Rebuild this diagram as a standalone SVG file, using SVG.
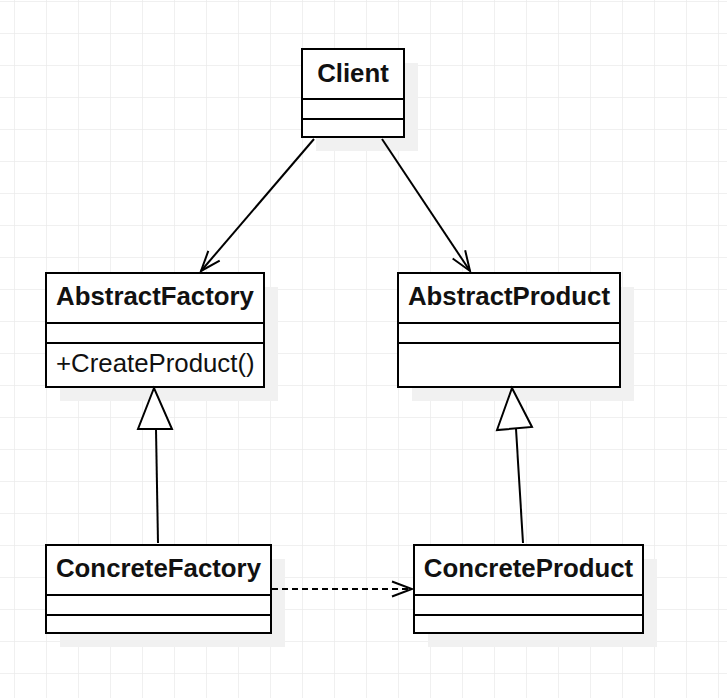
<svg xmlns="http://www.w3.org/2000/svg" width="727" height="698" viewBox="0 0 727 698">
<defs>
<pattern id="grid" x="14" y="1" width="32" height="32" patternUnits="userSpaceOnUse">
<path d="M0,0 H32 M0,0 V32" fill="none" stroke="#ebebeb" stroke-width="1.5"/>
</pattern>
<marker id="open" markerUnits="userSpaceOnUse" markerWidth="24" markerHeight="20" viewBox="-22 -10 24 20" refX="0" refY="0" orient="auto">
<path d="M-20,-7.5 L0,0 L-20,7.5" fill="none" stroke="#000" stroke-width="2"/>
</marker>
</defs>
<style>
.box{fill:#fff;stroke:#000;stroke-width:2}
.sh{fill:#f1f1f1}
.ln{stroke:#000;stroke-width:2;fill:none}
.t{font-family:"Liberation Sans",Arial,sans-serif;font-size:25.8px;fill:#111}
.b{font-weight:bold;text-anchor:middle}
.tri{fill:#fff;stroke:#000;stroke-width:2}
</style>
<rect width="727" height="698" fill="#fff"/>
<rect width="727" height="698" fill="url(#grid)"/>

<g id="Client">
<rect class="sh" x="316" y="63" width="102" height="88"/>
<rect class="box" x="302" y="49" width="102" height="88"/>
<line class="ln" x1="302" y1="99" x2="404" y2="99"/>
<line class="ln" x1="302" y1="119" x2="404" y2="119"/>
<text class="t b" x="353" y="82">Client</text>
</g>

<g id="AbstractFactory">
<rect class="sh" x="60" y="287" width="218" height="114"/>
<rect class="box" x="46" y="273" width="218" height="114"/>
<line class="ln" x1="46" y1="323" x2="264" y2="323"/>
<line class="ln" x1="46" y1="343" x2="264" y2="343"/>
<text class="t b" x="155" y="305">AbstractFactory</text>
<text class="t" x="56" y="372">+CreateProduct()</text>
</g>

<g id="AbstractProduct">
<rect class="sh" x="412" y="287" width="222" height="114"/>
<rect class="box" x="398" y="273" width="222" height="114"/>
<line class="ln" x1="398" y1="323" x2="620" y2="323"/>
<line class="ln" x1="398" y1="343" x2="620" y2="343"/>
<text class="t b" x="509" y="305">AbstractProduct</text>
</g>

<g id="ConcreteFactory">
<rect class="sh" x="60" y="559" width="225" height="88"/>
<rect class="box" x="46" y="545" width="225" height="88"/>
<line class="ln" x1="46" y1="595" x2="271" y2="595"/>
<line class="ln" x1="46" y1="615" x2="271" y2="615"/>
<text class="t b" x="158.5" y="577">ConcreteFactory</text>
</g>

<g id="ConcreteProduct">
<rect class="sh" x="428" y="559" width="229" height="88"/>
<rect class="box" x="414" y="545" width="229" height="88"/>
<line class="ln" x1="414" y1="595" x2="643" y2="595"/>
<line class="ln" x1="414" y1="615" x2="643" y2="615"/>
<text class="t b" x="528.5" y="577">ConcreteProduct</text>
</g>

<g id="connectors">
<line class="ln" x1="314" y1="139" x2="201" y2="271" marker-end="url(#open)"/>
<line class="ln" x1="382" y1="139" x2="470" y2="271" marker-end="url(#open)"/>
<line class="ln" x1="156" y1="429" x2="158" y2="543"/>
<polygon class="tri" points="154,388 138,429 172,429"/>
<line class="ln" x1="516" y1="429" x2="523" y2="543"/>
<polygon class="tri" points="512,388 497,430 532,427"/>
<line class="ln" x1="272" y1="589" x2="412" y2="589" stroke-dasharray="6 4" marker-end="url(#open)"/>
</g>
</svg>
